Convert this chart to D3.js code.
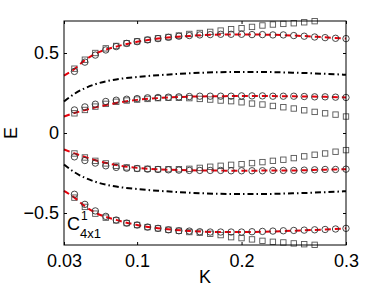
<!DOCTYPE html>
<html>
<head>
<meta charset="utf-8">
<script src="https://cdn.jsdelivr.net/npm/d3@7"></script>
<style>
  body { margin: 0; background: #fff; }
  text { font-family: "Liberation Sans", Arial, sans-serif; }
</style>
</head>
<body>
<div id="canvas"></div>
<script>
// marker K values
var kPts = [0.04,0.05,0.06,0.07,0.08,0.09,0.10,0.11,0.12,0.13,0.14,0.15,0.16,0.17,0.18,0.19,0.20,
            0.21,0.22,0.23,0.24,0.25,0.26,0.27,0.28,0.29,0.30];

// circles (4 bands)
var circTop  = [0.385,0.443,0.487,0.519,0.540,0.560,0.571,0.582,0.590,0.598,0.605,0.609,0.613,0.615,0.617,0.617,0.617,
                0.615,0.615,0.613,0.613,0.609,0.605,0.600,0.596,0.592,0.590];
var circMidU = [0.144,0.163,0.180,0.197,0.205,0.211,0.215,0.220,0.222,0.224,0.226,0.228,0.230,0.230,0.230,0.230,0.232,
                0.232,0.232,0.230,0.230,0.230,0.228,0.226,0.226,0.224,0.222];
var circMidL = [-0.149,-0.172,-0.188,-0.205,-0.215,-0.220,-0.222,-0.226,-0.228,-0.230,-0.232,-0.234,-0.234,-0.234,-0.234,-0.236,-0.236,
                -0.236,-0.236,-0.234,-0.234,-0.234,-0.232,-0.230,-0.228,-0.228,-0.226];
var circBot  = [-0.383,-0.446,-0.487,-0.521,-0.544,-0.563,-0.575,-0.588,-0.596,-0.605,-0.611,-0.613,-0.617,-0.619,-0.619,-0.619,-0.619,
                -0.617,-0.615,-0.613,-0.611,-0.609,-0.607,-0.605,-0.603,-0.600,-0.596];

// squares
var sqTop  = [0.402,0.458,0.500,0.529,0.544,0.561,0.573,0.582,0.592,0.600,0.609,0.619,0.625,0.632,0.640,0.649,0.655,
              0.663,0.672,0.678,0.682,0.686,0.692,0.699];
var sqMidU = [0.123,0.144,0.165,0.182,0.195,0.203,0.209,0.213,0.218,0.220,0.220,0.218,0.213,0.209,0.203,0.199,0.192,
              0.184,0.178,0.169,0.161,0.153,0.142,0.132,0.123,0.115,0.103];
var sqMidL = [-0.128,-0.153,-0.174,-0.190,-0.205,-0.215,-0.222,-0.224,-0.226,-0.226,-0.226,-0.224,-0.218,-0.211,-0.205,-0.199,-0.195,
              -0.188,-0.182,-0.174,-0.167,-0.157,-0.146,-0.136,-0.128,-0.117,-0.107];
var sqBot  = [-0.404,-0.462,-0.504,-0.529,-0.546,-0.563,-0.575,-0.588,-0.596,-0.605,-0.611,-0.619,-0.623,-0.630,-0.638,-0.651,-0.657,
              -0.665,-0.674,-0.680,-0.684,-0.690,-0.695,-0.699];

// curves
var kLine = [0.03,0.04,0.05,0.06,0.08,0.10,0.12,0.15,0.18,0.20,0.22,0.25,0.28,0.30];
var redTop  = [0.358,0.400,0.455,0.495,0.540,0.570,0.590,0.607,0.615,0.616,0.615,0.609,0.598,0.590];
var redMidU = [0.103,0.125,0.143,0.160,0.188,0.207,0.218,0.227,0.230,0.231,0.231,0.229,0.226,0.222];
var redMidL = [-0.103,-0.127,-0.150,-0.170,-0.200,-0.218,-0.227,-0.233,-0.235,-0.236,-0.235,-0.234,-0.229,-0.226];
var redBot  = [-0.362,-0.404,-0.458,-0.498,-0.543,-0.575,-0.595,-0.612,-0.619,-0.619,-0.617,-0.611,-0.603,-0.596];
var dotU = [0.197,0.245,0.280,0.305,0.335,0.350,0.361,0.373,0.380,0.381,0.381,0.377,0.370,0.364];
var dotL = [-0.197,-0.245,-0.280,-0.305,-0.335,-0.350,-0.361,-0.373,-0.380,-0.381,-0.381,-0.377,-0.370,-0.364];

var xTicks = [0.03, 0.1, 0.2, 0.3];
var yTicks = [-0.5, 0, 0.5];

var W = 382, H = 288;
var m = {t:21, r:36, b:43, l:64},
    w = W - m.l - m.r,
    h = H - m.t - m.b;

var svg = d3.select('#canvas').append('svg')
    .attr('width', W).attr('height', H);

var plot = svg.append('g')
    .attr('transform', 'translate(' + m.l + ',' + m.t + ')');

var x = d3.scaleLinear().domain([0.03, 0.3]).range([0, w]);
var y = d3.scaleLinear().domain([-0.7, 0.7]).range([h, 0]);

var line = d3.line()
    .x(function(d){ return x(d[0]); })
    .y(function(d){ return y(d[1]); })
    .curve(d3.curveMonotoneX);

function pairs(ks, vs){ return vs.map(function(v, i){ return [ks[i], v]; }); }

// black dash-dot curves
[dotU, dotL].forEach(function(s){
  plot.append('path').datum(pairs(kLine, s))
    .attr('d', line).attr('fill', 'none')
    .attr('stroke', '#000').attr('stroke-width', 2)
    .attr('stroke-dasharray', '6,3,1.5,3');
});

// squares
[sqTop, sqMidU, sqMidL, sqBot].forEach(function(s){
  plot.selectAll(null).data(pairs(kPts, s)).enter().append('rect')
    .attr('x', function(d){ return x(d[0]) - 2.7; })
    .attr('y', function(d){ return y(d[1]) - 2.7; })
    .attr('width', 5.4).attr('height', 5.4)
    .attr('fill', 'none').attr('stroke', '#555').attr('stroke-width', 0.9);
});

// red dashed curves
[redTop, redMidU, redMidL, redBot].forEach(function(s){
  plot.append('path').datum(pairs(kLine, s))
    .attr('d', line).attr('fill', 'none')
    .attr('stroke', '#e8000b').attr('stroke-width', 2)
    .attr('stroke-dasharray', '6,4');
});

// circles
[circTop, circMidU, circMidL, circBot].forEach(function(s){
  plot.selectAll(null).data(pairs(kPts, s)).enter().append('circle')
    .attr('cx', function(d){ return x(d[0]); })
    .attr('cy', function(d){ return y(d[1]); })
    .attr('r', 3.2)
    .attr('fill', 'none').attr('stroke', '#333').attr('stroke-width', 0.9);
});

// box + inward ticks
plot.append('rect').attr('width', w).attr('height', h)
  .attr('fill', 'none').attr('stroke', '#000').attr('stroke-width', 1);

var fmtX = function(d){ return d === 0.03 ? '0.03' : d3.format('.1f')(d); };
var fmtY = function(d){ return d === 0 ? '0' : (d < 0 ? '\u2212' : '') + Math.abs(d).toFixed(1); };

plot.append('g').attr('transform', 'translate(0,' + h + ')')
  .call(d3.axisBottom(x).tickValues(xTicks).tickSize(-3).tickPadding(9).tickFormat(fmtX));
plot.append('g')
  .call(d3.axisTop(x).tickValues(xTicks).tickSize(-3).tickFormat(''));
plot.append('g')
  .call(d3.axisLeft(y).tickValues(yTicks).tickSize(-3).tickPadding(5).tickFormat(fmtY));
plot.append('g').attr('transform', 'translate(' + w + ',0)')
  .call(d3.axisRight(y).tickValues(yTicks).tickSize(-3).tickFormat(''));

plot.selectAll('.domain').remove();
plot.selectAll('.tick line').attr('stroke', '#000');
plot.selectAll('.tick text')
  .style('font-family', '"Liberation Sans", Arial, sans-serif')
  .style('font-size', '18px').attr('fill', '#000');

// axis labels
svg.append('text').attr('x', 205).attr('y', 283)
  .attr('text-anchor', 'middle').style('font-size', '18px').text('K');
svg.append('text')
  .attr('transform', 'translate(17,133) rotate(-90)')
  .attr('text-anchor', 'middle').style('font-size', '18px').text('E');

// annotation C^1_{4x1}
svg.append('text').attr('x', 67).attr('y', 230).style('font-size', '18px').text('C');
svg.append('text').attr('x', 81).attr('y', 220).style('font-size', '12px').text('1');
svg.append('text').attr('x', 80).attr('y', 238).style('font-size', '13px').text('4x1');
</script>
</body>
</html>
